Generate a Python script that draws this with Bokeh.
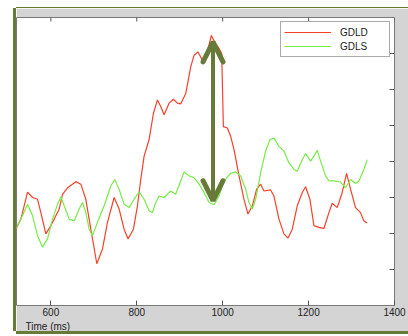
import math
from bokeh.plotting import figure
from bokeh.models import (Range1d, FixedTicker, Arrow, OpenHead, Title,
                          Legend, LegendItem)
from bokeh.embed import file_html
from bokeh.resources import INLINE

# --- data (time in ms, amplitude in arbitrary units) ---
gdld_t = [518.6, 530.2, 545.7, 557.4, 569.0, 576.7, 588.4, 600.0, 607.8, 619.4, 627.1, 638.8,
          658.1, 669.8, 681.4, 693.0, 707.0, 720.2, 731.8, 747.3, 758.9, 770.5, 779.8, 792.2,
          801.6, 809.3, 817.1, 828.7, 838.8, 848.1, 855.8, 863.6, 875.2, 885.3, 894.6, 902.3,
          914.0, 925.6, 933.3, 942.6, 952.7, 960.5, 973.6, 983.7, 991.5, 997.7, 1001.6, 1010.9,
          1018.6, 1026.4, 1038.0, 1049.6, 1058.9, 1069.0, 1079.1, 1088.4, 1096.1, 1111.6, 1119.4,
          1131.0, 1142.6, 1151.9, 1162.0, 1173.6, 1185.3, 1193.0, 1203.1, 1212.4, 1224.0, 1235.7,
          1247.3, 1255.0, 1266.7, 1278.3, 1288.4, 1297.7, 1309.3, 1320.9, 1328.7, 1336.4]
gdld_v = [-1.88, -1.60, -0.85, -1.00, -1.05, -1.42, -2.01, -1.78, -1.60, -1.32, -0.91, -0.73,
          -0.56, -0.63, -1.05, -1.88, -2.84, -2.43, -1.69, -1.00, -1.32, -1.88, -2.15, -1.88,
          -1.23, -0.50, 0.15, 0.61, 1.34, 1.71, 1.53, 1.30, 1.62, 1.73, 1.62, 1.60,
          1.89, 2.63, 2.95, 3.04, 2.81, 2.86, 3.50, 3.27, 3.14, 3.00, 0.97, 0.93,
          0.70, 0.33, -0.40, -1.05, -1.46, -1.23, -0.77, -0.63, -0.82, -0.79, -0.96,
          -1.60, -2.01, -2.13, -1.88, -1.23, -0.86, -0.70, -1.05, -1.78, -1.83, -1.86,
          -1.42, -1.16, -1.28, -0.86, -0.33, -0.77, -1.28, -1.42, -1.65, -1.71]

gdls_t = [518.6, 530.2, 545.7, 557.4, 569.0, 580.6, 592.2, 603.9, 615.5, 623.3, 631.0, 642.6,
          654.3, 665.9, 673.6, 681.4, 689.1, 696.9, 708.5, 724.0, 739.5, 748.8, 758.9, 770.5,
          782.2, 793.8, 805.4, 817.1, 828.7, 836.4, 844.2, 851.9, 863.6, 879.1, 890.7, 902.3,
          910.1, 921.7, 933.3, 945.0, 956.6, 968.2, 979.8, 991.5, 1003.1, 1018.6, 1030.2, 1041.9,
          1053.5, 1061.2, 1069.0, 1076.7, 1088.4, 1100.0, 1110.1, 1119.4, 1131.0, 1142.6, 1154.3,
          1165.9, 1173.6, 1185.3, 1193.0, 1204.7, 1212.4, 1220.2, 1227.9, 1239.5, 1247.3, 1258.9,
          1274.4, 1286.0, 1297.7, 1309.3, 1317.1, 1328.7, 1336.4]
gdls_v = [-1.86, -1.60, -1.19, -1.51, -2.06, -2.38, -2.15, -1.60, -1.19, -0.98, -1.23, -1.60,
          -1.65, -1.32, -1.14, -1.42, -1.88, -2.06, -1.69, -1.23, -0.68, -0.50, -0.77, -1.19,
          -1.28, -1.05, -0.84, -1.05, -1.37, -1.42, -1.14, -0.96, -1.00, -0.82, -0.91, -0.54,
          -0.29, -0.40, -0.45, -0.63, -0.86, -1.14, -1.20, -0.96, -0.54, -0.33, -0.29, -0.40,
          -0.77, -1.14, -1.32, -1.05, -0.31, 0.29, 0.61, 0.65, 0.42, 0.29, -0.04,
          -0.22, -0.27, 0.05, 0.22, 0.01, 0.15, 0.31, 0.01, -0.40, -0.54, -0.54,
          -0.57, -0.73, -0.50, -0.61, -0.54, -0.22, 0.05]

x_ticks = [600, 800, 1000, 1200, 1400]
y_ticks = [-3, -2, -1, 0, 1, 2, 3]
x_lim = [520, 1400]
y_lim = [-4, 4]
arrow_t = [977.5]
arrow_v = [-1.09, 3.32]

GRAY = "#d4d4d4"
OLIVE = "#687a38"
TXT = "#222222"
TICK = "#555555"

p = figure(width=392, height=323, output_backend="svg", toolbar_location=None,
           x_range=Range1d(*x_lim), y_range=Range1d(*y_lim),
           min_border_left=0, min_border_right=14, min_border_top=9, min_border_bottom=25,
           border_fill_color=GRAY, background_fill_color="white",
           outline_line_color="#7a7a7a", outline_line_width=1)
p.margin = (8, 0, 0, 16)
p.styles = {"box-shadow": f"-3px 0 0 0 {OLIVE}, 0 -1px 0 0 {OLIVE}, 0 3px 0 0 {OLIVE}"}
p.grid.visible = False
p.yaxis.visible = False

xa = p.xaxis[0]
xa.ticker = FixedTicker(ticks=x_ticks)
xa.major_tick_in = 5
xa.major_tick_out = 0
xa.minor_tick_line_color = None
xa.axis_line_color = None
xa.major_tick_line_color = TICK
xa.major_label_standoff = 2
xa.major_label_text_font = "Liberation Sans"
xa.major_label_text_font_size = "10px"
xa.major_label_text_color = TXT

# inward ticks on the top and right edges
p.ray(x=x_ticks, y=[y_lim[1]] * len(x_ticks), length=4, length_units="screen",
      angle=-math.pi / 2, line_color=TICK, line_width=1)
p.ray(x=[x_lim[1]] * len(y_ticks), y=y_ticks, length=5, length_units="screen",
      angle=math.pi, line_color=TICK, line_width=1)

r1 = p.line(gdld_t, gdld_v, line_color="#f7402a", line_width=1.2)
r2 = p.line(gdls_t, gdls_v, line_color="#78ec48", line_width=1.2)

p.add_layout(Arrow(x_start=arrow_t[0], y_start=arrow_v[0], x_end=arrow_t[0], y_end=arrow_v[1],
                   line_color=OLIVE, line_width=4,
                   start=OpenHead(size=20, line_color=OLIVE, line_width=5, line_cap="round"),
                   end=OpenHead(size=20, line_color=OLIVE, line_width=5, line_cap="round")))

legend = Legend(items=[LegendItem(label="GDLD", renderers=[r1]),
                       LegendItem(label="GDLS", renderers=[r2])],
                location="top_right", margin=4, padding=3, spacing=0,
                glyph_width=47, glyph_height=14, label_height=14, label_width=46,
                label_standoff=9, label_text_font="Liberation Sans",
                label_text_font_size="10px", label_text_color=TXT,
                border_line_color="#555555", border_line_width=1,
                background_fill_color="white", background_fill_alpha=1)
p.add_layout(legend)

p.add_layout(Title(text="Time (ms)", align="left", offset=9, standoff=0,
                   text_font="Liberation Sans", text_font_size="10px",
                   text_font_style="normal", text_color=TXT), "below")

open("out.html", "w").write(file_html(p, INLINE))
